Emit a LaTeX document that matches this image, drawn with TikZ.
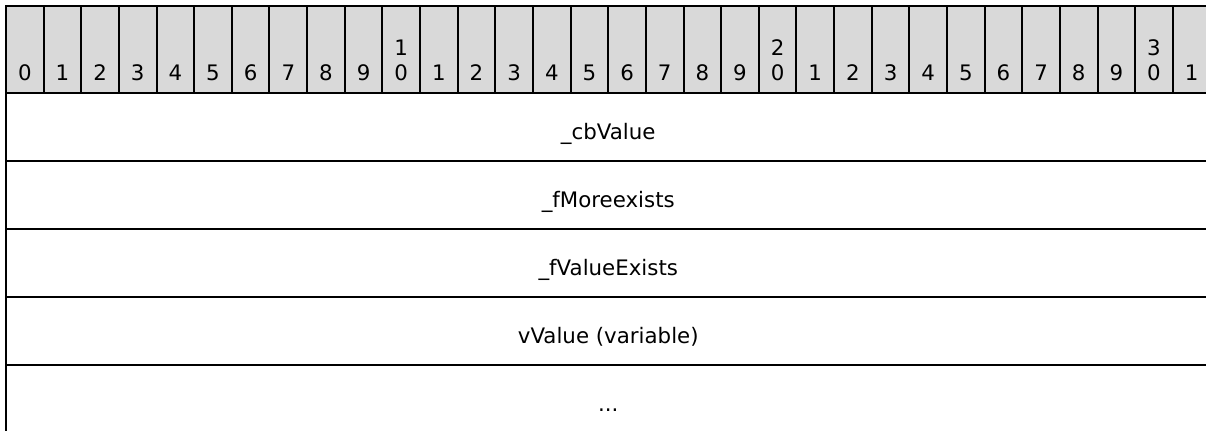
\documentclass[tikz,border=0pt]{standalone}
\usepackage{fontspec}
\setmainfont{DejaVu Sans}
\definecolor{hdr-grey}{HTML}{D9D9D9}
\newlength{\px}
\setlength{\px}{0.75pt}
\newlength{\bitw}
\setlength{\bitw}{37.64\px}

\begin{document}
\begin{tikzpicture}[
    every node/.style={font=\fontsize{16}{19}\selectfont},
    bitcell/.style={minimum height=86.7\px, minimum width=\bitw, fill=hdr-grey, draw, line width=2\px, inner sep=0pt},
    bitnum/.style={anchor=base, inner sep=0pt},
    fieldrow/.style={minimum height=68\px, minimum width=32\bitw, draw, line width=2\px, inner sep=0pt, text height=25.4\px, text depth=0pt}]
    \useasboundingbox (0,0) rectangle (1206\px,-430\px);

    % bit ruler
    \foreach \i in {0,...,31} {
        \pgfmathsetmacro{\cx}{6+37.64*(\i+0.5)}
        \pgfmathtruncatemacro{\lo}{mod(\i,10)}
        \pgfmathtruncatemacro{\hi}{div(\i,10)}
        \node[bitcell] (bit\i) at (\cx\px,-49.35\px) {};
        \node[bitnum] (num\i) at ([yshift=13.2\px]bit\i.south) {\lo};
        \ifnum\lo=0 \ifnum\i>0
            \node[bitnum] (tens\i) at ([yshift=25\px]num\i.base) {\hi};
        \fi\fi
    }

    % fields
    \node[fieldrow] (cbValue) at (608.25\px,-126.7\px) {\_cbValue};
    \node[fieldrow] (fMoreexists) at (608.25\px,-194.7\px) {\_fMoreexists};
    \node[fieldrow] (fValueExists) at (608.25\px,-262.7\px) {\_fValueExists};
    \node[fieldrow] (vValue) at (608.25\px,-330.7\px) {vValue (variable)};
    \node[fieldrow] (more) at (608.25\px,-398.7\px) {...};
\end{tikzpicture}
\end{document}
